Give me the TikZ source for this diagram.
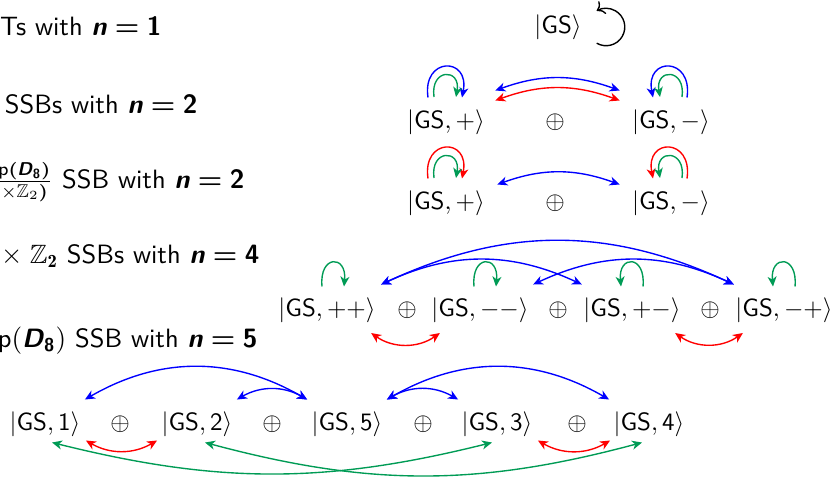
\documentclass[tikz,border=0pt]{standalone}
\usepackage{amsmath,amssymb}
\usepackage{fontspec}
\usetikzlibrary{arrows.meta}
\definecolor{cb}{RGB}{0,0,255}
\definecolor{cr}{RGB}{255,0,0}
\definecolor{cg}{RGB}{0,155,85}
\newcommand{\nval}[1]{\textbf{\textit{n}}$\;\boldsymbol{=}\;$\textbf{#1}}
\tikzset{
  myt/.tip={Stealth[length=4pt,width=3.6pt,inset=1.2pt]},
  lbl/.style={anchor=base east, inner sep=0pt, font=\sffamily\fontsize{10.6}{12.7}\selectfont},
  st/.style={inner sep=0pt},
  two/.style={line width=0.55pt, myt-myt},
  one/.style={line width=0.55pt, -myt},
  bb/.style={two, draw=cb},
  rr/.style={two, draw=cr},
  gg/.style={two, draw=cg},
  lb/.style={one, draw=cb},
  lr/.style={one, draw=cr},
  lg/.style={one, draw=cg},
  blk/.style={line width=0.55pt, ->, draw=black}
}
\begin{document}
\begin{tikzpicture}[x=0.4pt,y=0.4pt,font=\sffamily]
\useasboundingbox (0,0) rectangle (838,476);
\clip (0,0) rectangle (838,476);

% labels
\node[lbl] (l1) at (162,441) {Ts with \nval{1}};
\node[lbl] (l2) at (198,363) {SSBs with \nval{2}};
\node[lbl] (l3) at (245,288) {$\frac{\text{p}\boldsymbol{(}\textbf{\textit{D}}_{\textbf{8}}\boldsymbol{)}}{\times\mathbb{Z}_2\boldsymbol{)}}$ SSB with \nval{2}};
\node[lbl] (l4) at (260,213) {$\times\;\mathbb{Z}_{\mathbf{2}}$ SSBs with \nval{4}};
\node[lbl] (l5) at (258,129) {p$(\textbf{\textit{D}}_{\textbf{8}})$ SSB with \nval{5}};

% row 1
\node[st] (g0) at (558,449) {$|\textsf{GS}\rangle$};
\draw[blk] ([shift={(14.6,-16.2)}]g0.east) arc[start angle=-120,end angle=120,radius=18.7];

% row 2
\node[st] (p2) at (446,354) {$|\textsf{GS},+\rangle$};
\node[st] (o2) at (555,354) {$\oplus$};
\node[st] (m2) at (671,354) {$|\textsf{GS},-\rangle$};
\draw[lb] ([shift={(-18,11.5)}]p2.north) .. controls +(-6,41) and +(8,41) .. ([shift={(16,11.5)}]p2.north);
\draw[lg] ([shift={(-12,12)}]p2.north) .. controls +(-4,29) and +(5,29) .. ([shift={(10,12)}]p2.north);
\draw[lb] ([shift={(16,11.5)}]m2.north) .. controls +(6,41) and +(-8,41) .. ([shift={(-18,11.5)}]m2.north);
\draw[lg] ([shift={(11,12)}]m2.north) .. controls +(4,29) and +(-5,29) .. ([shift={(-11,12)}]m2.north);
\draw[bb] ([shift={(10,18.5)}]p2.north east) to[bend left=20] ([shift={(-12,18.5)}]m2.north west);
\draw[rr] ([shift={(10,8.5)}]p2.north east) to[bend left=20] ([shift={(-12,8.5)}]m2.north west);

% row 3
\node[st] (p3) at (446,273) {$|\textsf{GS},+\rangle$};
\node[st] (o3) at (555,273) {$\oplus$};
\node[st] (m3) at (671,273) {$|\textsf{GS},-\rangle$};
\draw[lr] ([shift={(-18,11.5)}]p3.north) .. controls +(-6,41) and +(8,41) .. ([shift={(16,11.5)}]p3.north);
\draw[lg] ([shift={(-12,12)}]p3.north) .. controls +(-4,29) and +(5,29) .. ([shift={(10,12)}]p3.north);
\draw[lr] ([shift={(16,11.5)}]m3.north) .. controls +(6,41) and +(-8,41) .. ([shift={(-18,11.5)}]m3.north);
\draw[lg] ([shift={(11,12)}]m3.north) .. controls +(4,29) and +(-5,29) .. ([shift={(-11,12)}]m3.north);
\draw[bb] ([shift={(12,5.5)}]p3.north east) to[bend left=20] ([shift={(-12,5.5)}]m3.north west);

% row 4
\node[st] (a) at (327,166) {$|\textsf{GS},++\rangle$};
\node[st] (oa) at (407,166) {$\oplus$};
\node[st] (b) at (480,166) {$|\textsf{GS},--\rangle$};
\node[st] (ob) at (558,166) {$\oplus$};
\node[st] (c) at (632,166) {$|\textsf{GS},+-\rangle$};
\node[st] (oc) at (710,166) {$\oplus$};
\node[st] (d) at (784,166) {$|\textsf{GS},-+\rangle$};
\draw[lg] ([shift={(-5,10.5)}]a.north) .. controls +(-3,32) and +(3,32) .. ([shift={(17,10.5)}]a.north);
\draw[lg] ([shift={(-6,10.5)}]b.north) .. controls +(-3,32) and +(3,32) .. ([shift={(16,10.5)}]b.north);
\draw[lg] ([shift={(11,10.5)}]c.north) .. controls +(3,32) and +(-3,32) .. ([shift={(-11,10.5)}]c.north);
\draw[lg] ([shift={(11,10.5)}]d.north) .. controls +(3,32) and +(-3,32) .. ([shift={(-11,10.5)}]d.north);
\draw[bb] ([shift={(5,12.5)}]a.north east) to[bend left=25] ([shift={(-1,12.5)}]d.north west);
\draw[bb] ([shift={(5,12.5)}]a.north east) to[bend left=25] ([shift={(-1,12.5)}]c.north west);
\draw[bb] ([shift={(4,12.5)}]b.north east) to[bend left=25] ([shift={(-1,12.5)}]d.north west);
\draw[rr] ([shift={(-5,-10)}]a.south east) to[bend right=35] ([shift={(9,-10)}]b.south west);
\draw[rr] ([shift={(-6,-10)}]c.south east) to[bend right=35] ([shift={(8,-10)}]d.south west);

% row 5
\node[st] (s1) at (45,52) {$|\textsf{GS},\textsf{1}\rangle$};
\node[st] (q1) at (120,52) {$\oplus$};
\node[st] (s2) at (197,52) {$|\textsf{GS},\textsf{2}\rangle$};
\node[st] (q2) at (272,52) {$\oplus$};
\node[st] (s5) at (347,52) {$|\textsf{GS},\textsf{5}\rangle$};
\node[st] (q3) at (423,52) {$\oplus$};
\node[st] (s3) at (497,52) {$|\textsf{GS},\textsf{3}\rangle$};
\node[st] (q4) at (577,52) {$\oplus$};
\node[st] (s4) at (649,52) {$|\textsf{GS},\textsf{4}\rangle$};
\draw[bb] ([shift={(4,11.5)}]s1.north east) to[bend left=30] ([shift={(-4,11.5)}]s5.north west);
\draw[bb] ([shift={(4,11.5)}]s2.north east) to[bend left=30] ([shift={(-4,11.5)}]s5.north west);
\draw[bb] ([shift={(4,11.5)}]s5.north east) to[bend left=30] ([shift={(-3,11.5)}]s3.north west);
\draw[bb] ([shift={(4,11.5)}]s5.north east) to[bend left=30] ([shift={(-4,11.5)}]s4.north west);
\draw[rr] ([shift={(5,-3.5)}]s1.south east) to[bend right=30] ([shift={(-4,-3.5)}]s2.south west);
\draw[rr] ([shift={(5,-3.5)}]s3.south east) to[bend right=30] ([shift={(-3,-3.5)}]s4.south west);
\draw[gg] ([shift={(7,-5.5)}]s1.south) to[bend right=14] ([shift={(-5,-5.5)}]s3.south);
\draw[gg] ([shift={(8,-5.5)}]s2.south) to[bend right=15] ([shift={(-7,-5.5)}]s4.south);
\end{tikzpicture}
\end{document}
